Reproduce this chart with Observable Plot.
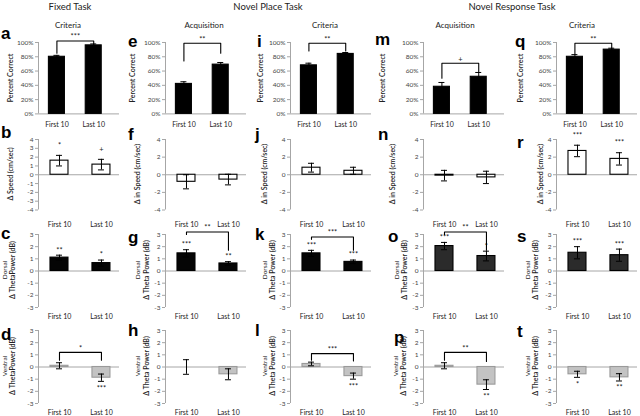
<!DOCTYPE html>
<html><head><meta charset="utf-8">
<script src="https://cdn.jsdelivr.net/npm/d3@7"></script>
<script src="https://cdn.jsdelivr.net/npm/@observablehq/plot@0.6"></script>
<style>
body{margin:0;background:#fff;}
#fig{position:relative;width:640px;height:416px;overflow:hidden;background:#fff;}
#fig svg{position:absolute;}
</style></head><body><div id="fig"></div><script>
// ---------------- DATA ----------------
const tasks = ["Fixed Task", "Novel Place Task", "Novel Response Task"];
const phases = ["Criteria", "Acquisition", "Criteria", "Acquisition", "Criteria"];
const categories = ["First 10", "Last 10"];

// Row 1: percent correct
const pctLetters = ["a", "e", "i", "m", "q"];
const pctMean = [[80, 96], [42, 69], [68, 84], [38, 52], [80, 90]];
const pctErr = [[2, 2], [3, 3], [3, 2], [6, 6], [3, 2]];
const pctSig = ["***", "**", "**", "+", "**"];
const pctBracket = [[102, 85, 98], [99, 74, 85], [99, 88, 88], [71, 50, 59], [99, 84, 92]]; // level, left end, right end
const pctTicks = [0, 20, 40, 60, 80, 100];

// Row 2: change in speed
const speedLetters = ["b", "f", "j", "n", "r"];
const speedMean = [[1.6, 1.15], [-0.8, -0.55], [0.8, 0.45], [-0.1, -0.3], [2.7, 1.8]];
const speedErr = [[0.6, 0.6], [0.8, 0.6], [0.5, 0.4], [0.6, 0.7], [0.65, 0.7]];
const speedStars = [["*", "+"], ["", ""], ["", ""], ["", ""], ["***", "***"]];
const speedTicksB = [-4, -3, -2, -1, 0, 1, 2, 3, 4];
const speedTicks = [-4, -2, 0, 2, 4];

// Row 3: dorsal theta power
const dorsalLetters = ["c", "g", "k", "o", "s"];
const dorsalMean = [[1.1, 0.65], [1.45, 0.62], [1.45, 0.75], [2.05, 1.23], [1.5, 1.3]];
const dorsalErr = [[0.2, 0.25], [0.3, 0.15], [0.25, 0.15], [0.3, 0.4], [0.5, 0.5]];
const dorsalStars = [["**", "*"], ["***", "**"], ["***", "***"], ["***", "*"], ["***", "***"]];
const dorsalBracket = [null, ["**", 3.2, 3.0, 1.7], ["***", 2.8, 2.6, 1.7], ["**", 3.2, 3.0, 1.7], null];

// Row 4: ventral theta power
const ventralLetters = ["d", "h", "l", "p", "t"];
const ventralMean = [[0.1, -0.88], [0.0, -0.6], [0.25, -0.75], [0.1, -1.45], [-0.6, -0.85]];
const ventralErr = [[0.25, 0.3], [0.6, 0.45], [0.15, 0.25], [0.25, 0.4], [0.25, 0.3]];
const ventralStars = [["", "***"], ["", ""], ["", "***"], ["", "**"], ["*", "**"]];
const ventralBracket = [["*", 1.2, 0.55, 0.55], null, ["***", 1.1, 0.55, 0.5], ["**", 1.2, 0.55, 0.45], null];
const thetaTicks = [-3, -2, -1, 0, 1, 2, 3];

// ---------------- LAYOUT ----------------
const FONT = "Lato, 'Open Sans', sans-serif";
const axisX = [38, 165, 290, 423, 556];
const W = 81, M = 24;
const fig = document.getElementById("fig");

function drawPanel(cfg) {
  const {ax, yTop, yBot, lo, hi, xmax, means, errs, fill, stroke, ticks, fmt, stars,
         bracket, catY, catDy, barPx, starGap} = cfg;
  const unit = W / xmax;
  const bw = barPx / 2 / unit, cap = 3 / unit, tk = 3 / unit;
  const rows = categories.map((c, i) => ({cat: c, c: i + 0.5, v: means[i], e: errs[i], s: stars ? stars[i] : ""}));
  const up = rows.filter(d => d.v >= 0 && d.s), down = rows.filter(d => d.v < 0 && d.s);
  const marks = [
    Plot.ruleY([0], {x1: 0, x2: xmax, stroke: "#a6a6a6", strokeWidth: 1}),
    Plot.rect(rows, {x1: d => d.c - bw, x2: d => d.c + bw, y1: 0, y2: "v", fill, stroke, strokeWidth: 1.1}),
    Plot.ruleX(rows, {x: "c", y1: d => d.v - d.e, y2: d => d.v + d.e, stroke: "#000", strokeWidth: 1}),
    Plot.ruleY(rows, {y: d => d.v + d.e, x1: d => d.c - cap, x2: d => d.c + cap, stroke: "#000"}),
    Plot.ruleY(rows, {y: d => d.v - d.e, x1: d => d.c - cap, x2: d => d.c + cap, stroke: "#000"}),
    Plot.ruleX([0], {y1: lo, y2: hi, stroke: "#a6a6a6"}),
    Plot.ruleY(ticks, {y: d => d, x1: -tk, x2: 0, stroke: "#a6a6a6"}),
    Plot.text(ticks, {x: 0, y: d => d, text: fmt, textAnchor: "end", dx: -5, fontSize: 6.5, fill: "#444"}),
    Plot.text(rows, {x: "c", y: catY, dy: catDy, text: "cat", fontSize: 7, fill: "#222"}),
    Plot.text(up, {x: "c", y: d => d.v + d.e, dy: -starGap, text: "s", fontSize: 7.5, fill: "#222"}),
    Plot.text(down, {x: "c", y: d => d.v - d.e, dy: starGap + 2, text: "s", fontSize: 7.5, fill: "#222"})
  ];
  if (bracket) {
    const [sig, level, l, r] = bracket;
    const path = [{x: 0.5, y: l}, {x: 0.5, y: level}, {x: 1.5, y: level}, {x: 1.5, y: r}];
    marks.push(Plot.line(path, {x: "x", y: "y", stroke: "#000", strokeWidth: 1.1}));
    marks.push(Plot.text([sig], {x: 1, y: level, dy: -4, text: d => d, fontSize: 7.5, fill: "#222"}));
  }
  const p = Plot.plot({
    width: W + 2 * M, height: (yBot - yTop) + 2 * M,
    marginLeft: M, marginRight: M, marginTop: M, marginBottom: M,
    x: {domain: [0, xmax], axis: null},
    y: {domain: [lo, hi], axis: null},
    style: {fontFamily: FONT, fontSize: "7px", background: "transparent", overflow: "visible"},
    marks
  });
  p.style.left = (ax - M) + "px";
  p.style.top = (yTop - M) + "px";
  fig.appendChild(p);
}

for (let k = 0; k < 5; k++) {
  drawPanel({ax: axisX[k], yTop: 42, yBot: 113.4, lo: 0, hi: 100, xmax: 2.2,
    means: pctMean[k], errs: pctErr[k], fill: "#000", stroke: "#000", ticks: pctTicks, fmt: d => d + "%",
    stars: null, bracket: [pctSig[k], ...pctBracket[k]], catY: 0, catDy: 11, barPx: 16, starGap: 6});
  drawPanel({ax: axisX[k], yTop: 139, yBot: 209.5, lo: -4, hi: 4, xmax: 1.93,
    means: speedMean[k], errs: speedErr[k], fill: "#fff", stroke: "#000", ticks: k === 0 ? speedTicksB : speedTicks, fmt: d => d,
    stars: speedStars[k], bracket: null, catY: -4, catDy: 14.5, barPx: 18, starGap: 10});
  drawPanel({ax: axisX[k], yTop: 233.5, yBot: 306.5, lo: -3, hi: 3, xmax: 1.93,
    means: dorsalMean[k], errs: dorsalErr[k], fill: k >= 3 ? "#2b2b2b" : "#050505", stroke: "#000", ticks: thetaTicks, fmt: d => d,
    stars: dorsalStars[k], bracket: dorsalBracket[k], catY: -3, catDy: 9.5, barPx: 18, starGap: 5});
  drawPanel({ax: axisX[k], yTop: 329.5, yBot: 402.5, lo: -3, hi: 3, xmax: 1.93,
    means: ventralMean[k], errs: ventralErr[k], fill: "#c3c3c3", stroke: "#9a9a9a", ticks: thetaTicks, fmt: d => d,
    stars: ventralStars[k], bracket: ventralBracket[k], catY: -3, catDy: 9.5, barPx: 18, starGap: 5});
}

// ---------------- TEXT OVERLAY ----------------
const ov = d3.select("#fig").append("svg").attr("width", 640).attr("height", 416)
  .style("left", "0px").style("top", "0px").style("font-family", FONT);
function txt(x, y, s, size, opts = {}) {
  const t = ov.append("text").attr("x", x).attr("y", y).text(s)
    .attr("font-size", size).attr("fill", opts.fill || "#222")
    .attr("text-anchor", opts.anchor || "middle").attr("dominant-baseline", opts.base || "central");
  if (opts.weight) t.attr("font-weight", opts.weight);
  if (opts.family) t.attr("font-family", opts.family);
  if (opts.rot) t.attr("transform", `rotate(-90 ${x} ${y})`);
  return t;
}
const taskX = [70, 268, 512];
tasks.forEach((t, i) => txt(taskX[i], 6, t, 9.5));
const phaseX = [68, 204, 325, 455, 582];
phases.forEach((t, i) => txt(phaseX[i], 25, t, 8));

const L = "'Liberation Sans', Arial, sans-serif";
const letterPos = [
  [[1, 39], [128, 47], [257, 47], [375, 45], [515, 47]],
  [[1, 138], [128, 140], [255, 140], [378, 140], [517, 148]],
  [[1, 239], [128, 243], [255, 240], [388, 242], [517, 242]],
  [[1, 340], [128, 336], [255, 336], [394, 343], [517, 337]]
];
[pctLetters, speedLetters, dorsalLetters, ventralLetters].forEach((arr, r) =>
  arr.forEach((l, k) => txt(letterPos[r][k][0], letterPos[r][k][1], l, 17,
    {anchor: "start", base: "auto", weight: "bold", family: L, fill: "#000"})));

// rotated axis titles
const rowCenter = [78, 174, 270, 366];
const labX = [[10, 132, 260, 382, 520], [10, 137, 264, 392, 540], [12, 146, 272, 404, 535], [12, 146, 272, 403, 535]];
const groupX = [[4, 137, 264, 396, 527], [4, 137, 264, 395, 527]];
for (let k = 0; k < 5; k++) {
  txt(labX[0][k], rowCenter[0], "Percent Correct", 7, {rot: true, weight: 600});
  txt(labX[1][k], rowCenter[1], k === 0 ? "Δ Speed (cm/sec)" : "Δ in Speed (cm/sec)", 7, {rot: true, weight: 600});
  txt(labX[2][k], rowCenter[2], k === 0 ? "Δ ThetaPower (dB)" : "Δ Theta Power (dB)", 7, {rot: true, weight: 600});
  txt(labX[3][k], rowCenter[3], k === 0 ? "Δ ThetaPower (dB)" : "Δ Theta Power (dB)", 7, {rot: true, weight: 600});
  txt(groupX[0][k], rowCenter[2], "Dorsal", 6.5, {rot: true});
  txt(groupX[1][k], rowCenter[3], "Ventral", 6.5, {rot: true});
}
</script></body></html>
